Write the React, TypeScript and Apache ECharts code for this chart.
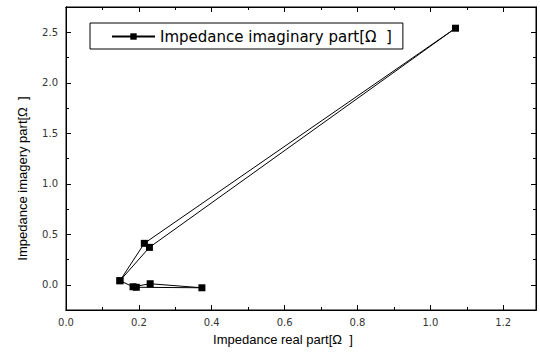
import React, { useEffect, useRef } from "react";
import * as echarts from "echarts";

const seriesName = "Impedance imaginary part[Ω  ]";
const realPart = [0.148, 0.215, 1.069, 0.229, 0.148, 0.184, 0.231, 0.373, 0.193];
const imagPart = [0.04, 0.41, 2.54, 0.37, 0.04, -0.02, 0.01, -0.03, -0.025];
const xMajorTicks = [0, 0.2, 0.4, 0.6, 0.8, 1.0, 1.2];
const xMinorTicks = [0.1, 0.3, 0.5, 0.7, 0.9, 1.1];
const yMajorTicks = [0, 0.5, 1.0, 1.5, 2.0, 2.5];
const yMinorTicks = [-0.25, 0.25, 0.75, 1.25, 1.75, 2.25];

export default function App() {
  const ref = useRef<HTMLDivElement>(null);
  useEffect(() => {
    if (!ref.current) return;
    const chart = echarts.init(ref.current, undefined, { renderer: "svg" });
    const font = "'Liberation Sans', Arial, sans-serif";
    const data = realPart.map((x, i) => [x, imagPart[i]]);
    const xBase = { type: "value", min: 0, max: 1.29, gridIndex: 0, splitLine: { show: false } };
    const yBase = { type: "value", min: -0.25, max: 2.75, gridIndex: 0, splitLine: { show: false } };
    const lineStyle = { show: true, onZero: false, lineStyle: { color: "#000", width: 1 } };
    const labelStyle = { fontFamily: "'DejaVu Sans', sans-serif", fontSize: 10, color: "#333" };
    chart.setOption({
      animation: false,
      backgroundColor: "#fff",
      grid: { left: 66, right: 4, top: 7, bottom: 46, show: true, borderColor: "#000", borderWidth: 1 },
      legend: {
        left: 90,
        top: 23,
        padding: [6, 11, 5, 21],
        borderColor: "#000",
        borderWidth: 1,
        itemWidth: 43,
        itemHeight: 8,
        itemGap: 5,
        textStyle: { fontFamily: "'DejaVu Sans', sans-serif", fontSize: 15, color: "#000" },
        data: [seriesName],
      },
      xAxis: [
        {
          ...xBase,
          position: "bottom",
          name: "Impedance real part[Ω  ]",
          nameLocation: "middle",
          nameGap: 23,
          nameTextStyle: { fontFamily: font, fontSize: 13, color: "#000", padding: [0, 36, 0, 0] },
          axisLine: lineStyle,
          axisTick: { show: true, inside: true, length: 5, customValues: xMajorTicks, lineStyle: { color: "#000" } },
          axisLabel: { customValues: xMajorTicks, ...labelStyle, margin: 7, formatter: (v: number) => v.toFixed(1) },
        },
        {
          ...xBase,
          position: "bottom",
          axisLine: lineStyle,
          axisTick: { show: true, inside: true, length: 3, customValues: xMinorTicks, lineStyle: { color: "#000" } },
          axisLabel: { show: false },
        },
        {
          ...xBase,
          position: "top",
          axisLine: lineStyle,
          axisTick: { show: true, inside: true, length: 5, customValues: xMajorTicks, lineStyle: { color: "#000" } },
          axisLabel: { show: false },
        },
        {
          ...xBase,
          position: "top",
          axisLine: lineStyle,
          axisTick: { show: true, inside: true, length: 3, customValues: xMinorTicks, lineStyle: { color: "#000" } },
          axisLabel: { show: false },
        },
      ],
      yAxis: [
        {
          ...yBase,
          position: "left",
          name: "Impedance imagery part[Ω  ]",
          nameLocation: "middle",
          nameGap: 37,
          nameTextStyle: { fontFamily: font, fontSize: 13, color: "#000", padding: [0, 40, 0, 0] },
          axisLine: lineStyle,
          axisTick: { show: true, inside: true, length: 5, customValues: yMajorTicks, lineStyle: { color: "#000" } },
          axisLabel: { customValues: yMajorTicks, ...labelStyle, margin: 8, formatter: (v: number) => v.toFixed(1) },
        },
        {
          ...yBase,
          position: "left",
          axisLine: lineStyle,
          axisTick: { show: true, inside: true, length: 3, customValues: yMinorTicks, lineStyle: { color: "#000" } },
          axisLabel: { show: false },
        },
        {
          ...yBase,
          position: "right",
          axisLine: lineStyle,
          axisTick: { show: true, inside: true, length: 5, customValues: yMajorTicks, lineStyle: { color: "#000" } },
          axisLabel: { show: false },
        },
        {
          ...yBase,
          position: "right",
          axisLine: lineStyle,
          axisTick: { show: true, inside: true, length: 3, customValues: yMinorTicks, lineStyle: { color: "#000" } },
          axisLabel: { show: false },
        },
      ],
      series: [
        {
          name: seriesName,
          type: "line",
          xAxisIndex: 0,
          yAxisIndex: 0,
          data,
          symbol: "rect",
          symbolSize: 7,
          showAllSymbol: true,
          itemStyle: { color: "#000" },
          lineStyle: { color: "#000", width: 1 },
        },
      ],
    });
    return () => chart.dispose();
  }, []);
  return <div ref={ref} style={{ position: "fixed", left: 0, top: 0, width: 540, height: 356 }} />;
}
